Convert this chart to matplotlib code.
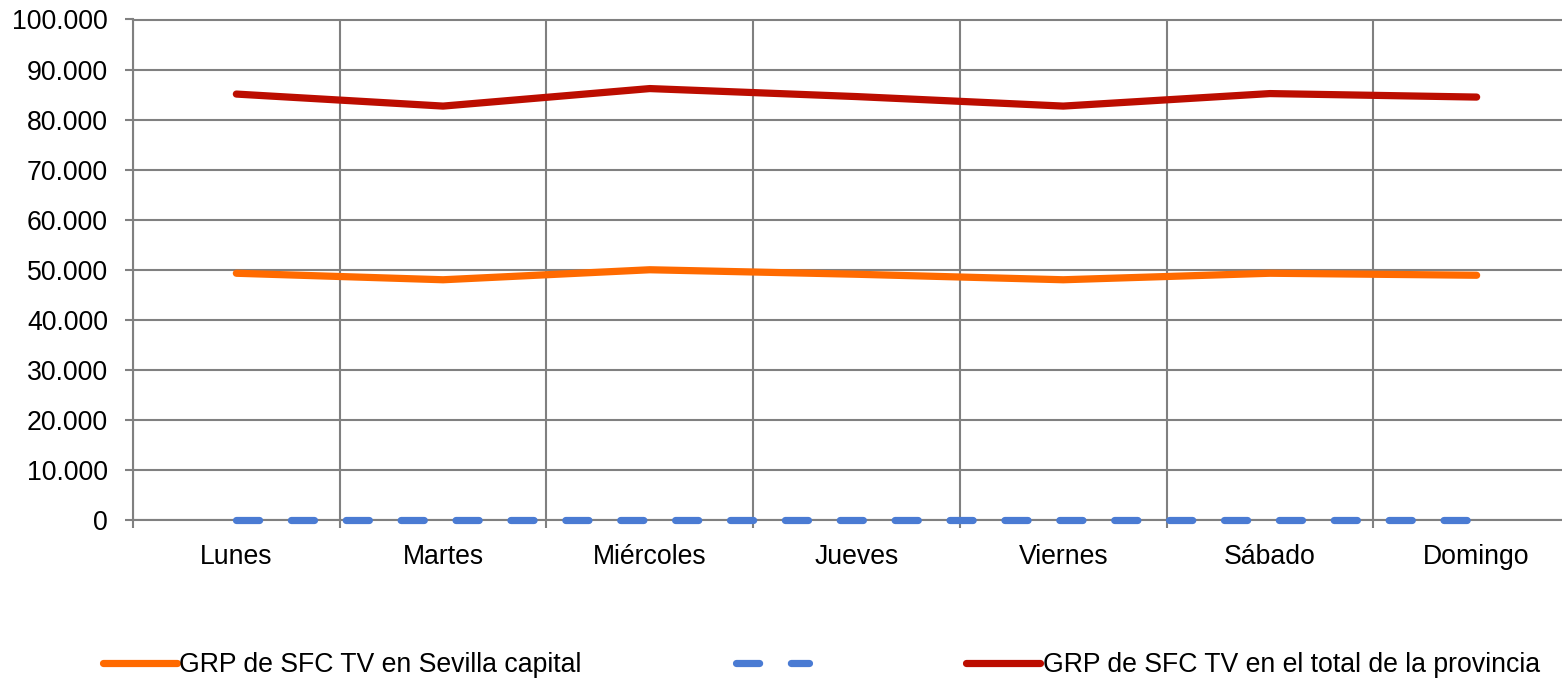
import matplotlib
matplotlib.use("Agg")
import matplotlib.pyplot as plt
from matplotlib.ticker import FuncFormatter, FixedLocator
import numpy as np

plt.rcParams['font.family'] = ['Liberation Sans', 'DejaVu Sans']

days = ["Lunes", "Martes", "Miércoles", "Jueves", "Viernes", "Sábado", "Domingo"]
sevilla_capital = [49300, 48000, 50000, 49100, 48000, 49300, 48900]
serie_vacia = [0, 0, 0, 0, 0, 0, 0]
total_provincia = [85100, 82700, 86200, 84600, 82700, 85200, 84500]

label_capital = "GRP de SFC TV en Sevilla capital"
label_vacia = ""
label_provincia = "GRP de SFC TV en el total de la provincia"

W, H = 1562, 685
fig = plt.figure(figsize=(W / 100, H / 100), dpi=100)
left = 133 / W
right = 1580 / W
top = 1 - 19.5 / H
bottom = 1 - 520 / H
ax = fig.add_axes([left, bottom, right - left, top - bottom])

x = np.arange(len(days))
grid_c = "#808080"
lw = 5.2

l1, = ax.plot(x, sevilla_capital, color="#FF6A00", lw=lw, solid_capstyle="round",
              solid_joinstyle="round", zorder=4)
l2, = ax.plot(x, serie_vacia, color="#4A7BD3", lw=lw, dashes=(3.2, 4.4),
              dash_capstyle="round", zorder=4, clip_on=False)
l3, = ax.plot(x, total_provincia, color="#BC0D00", lw=lw, solid_capstyle="round",
              solid_joinstyle="round", zorder=4)

ax.set_xlim(-0.5, len(days) - 0.5)
ax.set_ylim(0, 100000)
ax.set_yticks(np.arange(0, 100001, 10000))
ax.yaxis.set_major_formatter(FuncFormatter(lambda v, p: f"{int(v):,}".replace(",", ".")))

ax.set_xticks(x)
ax.set_xticklabels(days)
ax.xaxis.set_minor_locator(FixedLocator(np.arange(-0.5, len(days), 1.0)))

fs = 19.2
ax.tick_params(axis="x", which="major", length=0, pad=17, labelsize=fs, colors="black")
ax.tick_params(axis="x", which="minor", length=6, width=1.5, color=grid_c, direction="out")
ax.tick_params(axis="y", which="major", length=6, width=1.5, color=grid_c, pad=12,
               labelsize=fs, labelcolor="black")

ax.grid(True, axis="y", which="major", color=grid_c, lw=1.5, zorder=1)
ax.grid(True, axis="x", which="minor", color=grid_c, lw=1.5, zorder=1)
ax.grid(False, axis="x", which="major")
ax.set_axisbelow(True)

for s in ["left", "bottom", "top", "right"]:
    ax.spines[s].set_color(grid_c)
    ax.spines[s].set_linewidth(1.5)

fig.legend([l1, l2, l3], [label_capital, label_vacia, label_provincia],
           loc="center left", bbox_to_anchor=(103 / W, 1 - 665 / H),
           ncol=3, frameon=False, fontsize=fs, borderpad=0, borderaxespad=0,
           handlelength=53 / fs, handletextpad=0.1, columnspacing=111 / fs)

fig.savefig("out.png", dpi=100)
